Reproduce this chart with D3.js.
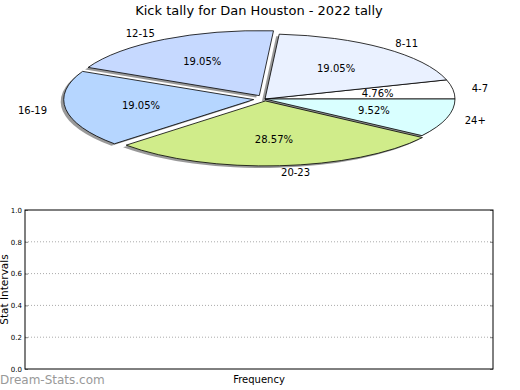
<!DOCTYPE html>
<html>
<head>
<meta charset="utf-8">
<script src="https://cdn.jsdelivr.net/npm/d3@7"></script>
<style>
  body { margin: 0; background: #fff; }
  svg { display: block; font-family: "DejaVu Sans", sans-serif; }
</style>
</head>
<body>
<div id="chart"></div>
<script>
// kick distance buckets and counts (percentages come from these)
const buckets = ["4-7", "8-11", "12-15", "16-19", "20-23", "24+"];
const counts = [1, 4, 4, 4, 6, 2];
const sliceColors = ["#ffffff", "#eaf1ff", "#c6d9ff", "#b6d6ff", "#d0ec8a", "#d9ffff"];
const explode = [0, 0, 0.06, 0.06, 0.03, 0];
const yTicks = [0, 0.2, 0.4, 0.6, 0.8, 1.0];

const width = 520, height = 390;
const svg = d3.select("#chart").append("svg")
    .attr("width", width)
    .attr("height", height);

svg.append("text")
    .attr("x", 259).attr("y", 15)
    .attr("text-anchor", "middle")
    .attr("font-size", 13)
    .text("Kick tally for Dan Houston - 2022 tally");

// pie, drawn as a circle squashed into an ellipse
const cx = 265, cy = 99, rx = 190, ry = 65;
const k = ry / rx;
const total = d3.sum(counts);

// angles counter-clockwise from east (like the original), converted for d3.arc
const pie = d3.pie().sort(null).value(d => d)
    .startAngle(Math.PI / 2).endAngle(Math.PI / 2 - 2 * Math.PI);
const arcs = pie(counts);
const arc = d3.arc().innerRadius(0).outerRadius(rx);

const pieG = svg.append("g");

function midTheta(d) {
  return Math.PI / 2 - (d.startAngle + d.endAngle) / 2;
}
function offset(d, i) {
  const t = midTheta(d);
  return [explode[i] * rx * Math.cos(t), -explode[i] * ry * Math.sin(t)];
}

// shadows first
arcs.forEach((d, i) => {
  const [ox, oy] = offset(d, i);
  pieG.append("path")
      .attr("d", arc(d))
      .attr("transform", `translate(${cx + ox - 3},${cy + oy + 2}) scale(1,${k})`)
      .attr("fill", "#333")
      .attr("fill-opacity", 0.5);
});

arcs.forEach((d, i) => {
  const [ox, oy] = offset(d, i);
  pieG.append("path")
      .attr("d", arc(d))
      .attr("transform", `translate(${cx + ox},${cy + oy}) scale(1,${k})`)
      .attr("fill", sliceColors[i])
      .attr("stroke", "#000")
      .attr("stroke-width", 0.8)
      .attr("vector-effect", "non-scaling-stroke");
});

arcs.forEach((d, i) => {
  const [ox, oy] = offset(d, i);
  const t = midTheta(d);
  const c = Math.cos(t), s = Math.sin(t);
  svg.append("text")
      .attr("x", cx + ox + 1.1 * rx * c)
      .attr("y", cy + oy - 1.1 * ry * s)
      .attr("dy", "0.35em")
      .attr("text-anchor", c > 0 ? "start" : "end")
      .attr("font-size", 10)
      .text(buckets[i]);
  svg.append("text")
      .attr("x", cx + ox + 0.6 * rx * c)
      .attr("y", cy + oy - 0.6 * ry * s)
      .attr("dy", "0.35em")
      .attr("text-anchor", "middle")
      .attr("font-size", 10)
      .text((counts[i] / total * 100).toFixed(2) + "%");
});

// empty lower chart
const plotL = 25, plotR = 493, plotT = 210, plotB = 369;
const y = d3.scaleLinear().domain([0, 1]).range([plotB, plotT]);

svg.append("g")
    .selectAll("line")
    .data(yTicks.filter(v => v > 0 && v < 1))
    .join("line")
    .attr("x1", plotL).attr("x2", plotR)
    .attr("y1", d => y(d)).attr("y2", d => y(d))
    .attr("stroke", "#aaa")
    .attr("stroke-width", 1)
    .attr("stroke-dasharray", "1,2");

const yAxis = svg.append("g")
    .attr("transform", `translate(${plotL},0)`)
    .call(d3.axisLeft(y).tickValues(yTicks).tickFormat(d3.format(".1f")).tickSize(-3).tickPadding(3));
yAxis.select(".domain").remove();
yAxis.selectAll("text").attr("font-size", 7).attr("font-family", "DejaVu Sans, sans-serif");
yAxis.selectAll("line").attr("stroke", "#888");

const yAxisR = svg.append("g")
    .attr("transform", `translate(${plotR},0)`)
    .call(d3.axisRight(y).tickValues(yTicks).tickFormat("").tickSize(-3));
yAxisR.select(".domain").remove();
yAxisR.selectAll("line").attr("stroke", "#888");

svg.append("rect")
    .attr("x", plotL).attr("y", plotT)
    .attr("width", plotR - plotL).attr("height", plotB - plotT)
    .attr("fill", "none")
    .attr("stroke", "#000")
    .attr("stroke-width", 1);

svg.append("text")
    .attr("transform", `translate(8,${(plotT + plotB) / 2}) rotate(-90)`)
    .attr("text-anchor", "middle")
    .attr("font-size", 10.5)
    .text("Stat Intervals");

svg.append("text")
    .attr("x", 259).attr("y", 383)
    .attr("text-anchor", "middle")
    .attr("font-size", 10)
    .text("Frequency");

svg.append("text")
    .attr("x", 0).attr("y", 384)
    .attr("font-size", 12)
    .attr("fill", "#999")
    .text("Dream-Stats.com");
</script>
</body>
</html>
